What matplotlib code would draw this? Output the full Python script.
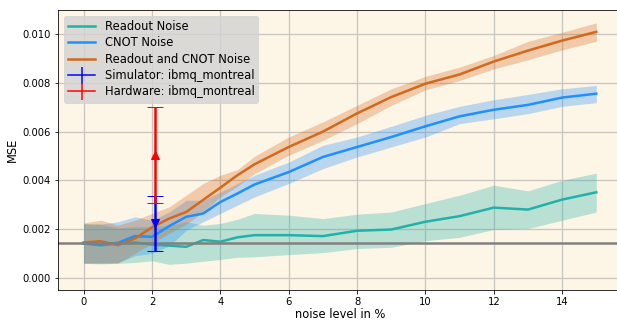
import numpy as np
import matplotlib
matplotlib.use('Agg')
import matplotlib.pyplot as plt
from matplotlib.lines import Line2D

# noise levels in %
noise = [0, 0.5, 1, 1.5, 2, 2.5, 3, 3.5, 4, 4.5, 5, 6, 7, 8, 9, 10, 11, 12, 13, 14, 15]

# readout noise only
ro_mean = [0.00141, 0.00133, 0.0014, 0.00145, 0.00136, 0.00132, 0.00127, 0.00155, 0.00148, 0.00166, 0.00175,
           0.00175, 0.00171, 0.00193, 0.00198, 0.0023, 0.00253, 0.00288, 0.0028, 0.00321, 0.00351]
ro_hi = [0.00223, 0.0022, 0.00205, 0.0021, 0.0021, 0.00215, 0.0023, 0.00216, 0.00223, 0.0024, 0.00264,
         0.00257, 0.00243, 0.00261, 0.0027, 0.00305, 0.00339, 0.0038, 0.00357, 0.004, 0.0043]
ro_lo = [0.00059, 0.00057, 0.00059, 0.00063, 0.0007, 0.00055, 0.0006, 0.00068, 0.00075, 0.00084, 0.00086,
         0.00095, 0.00103, 0.0012, 0.00125, 0.00152, 0.00166, 0.00198, 0.00202, 0.00236, 0.0027]

# CNOT noise only
cx_mean = [0.00141, 0.00137, 0.00143, 0.00171, 0.00168, 0.00212, 0.0025, 0.00264, 0.00311, 0.00346, 0.00383,
           0.00434, 0.00496, 0.00537, 0.00578, 0.00622, 0.00663, 0.0069, 0.0071, 0.0074, 0.00756]
cx_hi = [0.0022, 0.0022, 0.0023, 0.0025, 0.00236, 0.0027, 0.00318, 0.00318, 0.00352, 0.00387, 0.00421,
         0.00475, 0.00544, 0.00578, 0.00622, 0.00667, 0.00704, 0.00731, 0.00753, 0.00776, 0.0079]
cx_lo = [0.0006, 0.0006, 0.00062, 0.0009, 0.001, 0.0013, 0.00195, 0.0023, 0.00264, 0.00298, 0.00332,
         0.00387, 0.00448, 0.00496, 0.00537, 0.00578, 0.00633, 0.00653, 0.00674, 0.00704, 0.00719]

# readout + CNOT noise
both_mean = [0.00145, 0.0015, 0.00134, 0.00161, 0.00207, 0.00243, 0.0027, 0.0032, 0.0037, 0.00421, 0.00466,
             0.00537, 0.006, 0.00675, 0.00742, 0.00797, 0.00835, 0.00888, 0.00933, 0.00974, 0.0101]
both_hi = [0.00225, 0.00236, 0.00216, 0.00236, 0.00264, 0.00291, 0.00339, 0.00387, 0.00421, 0.00444, 0.00499,
           0.00578, 0.0064, 0.00708, 0.00776, 0.00827, 0.00865, 0.00913, 0.00971, 0.01008, 0.01047]
both_lo = [0.00061, 0.0006, 0.0006, 0.001, 0.00141, 0.00182, 0.0022, 0.0027, 0.00332, 0.00376, 0.00428,
           0.00503, 0.00564, 0.00633, 0.00708, 0.00772, 0.0081, 0.00858, 0.00895, 0.00936, 0.00971]

baseline = 0.00143

# ibmq_montreal results
dev_x = 2.1
sim_mse, sim_err = 0.00223, 0.00114
hw_mse, hw_err = 0.00504, 0.00197

fig = plt.figure(figsize=(617 / 72, 320 / 72), dpi=72)
ax = fig.add_axes([0.094, 0.094, 0.914, 0.875])
ax.set_facecolor('oldlace')

handles = []
series = [(ro_mean, ro_lo, ro_hi, 'lightseagreen', 'Readout Noise'),
          (cx_mean, cx_lo, cx_hi, 'dodgerblue', 'CNOT Noise'),
          (both_mean, both_lo, both_hi, 'chocolate', 'Readout and CNOT Noise')]
for mean, lo, hi, c, lab in series:
    ax.fill_between(noise, lo, hi, color=c, alpha=0.3, lw=0)
    line, = ax.plot(noise, mean, color=c, lw=2.5, label=lab)
    handles.append(line)

ax.axhline(baseline, color='gray', lw=2.5)

for y, err, c, mk, lab in [(sim_mse, sim_err, 'blue', 'v', 'Simulator: ibmq_montreal'),
                           (hw_mse, hw_err, 'red', '^', 'Hardware: ibmq_montreal')]:
    ax.errorbar([dev_x], [y], yerr=[err], color=c, elinewidth=2.5, lw=0,
                capsize=8, capthick=1)
    ax.plot([dev_x], [y], mk, color=c, ms=8)
    handles.append(Line2D([], [], color=c, lw=1.5, marker='|', ms=17, mew=1.5, label=lab))

ax.set_xlim(-0.75, 15.75)
ax.set_ylim(-0.0005, 0.011)
ax.set_xticks(np.arange(0, 15, 2))
ax.set_yticks(np.arange(0, 0.0101, 0.002))
ax.set_yticklabels(['%.3f' % v for v in np.arange(0, 0.0101, 0.002)])
ax.grid(True, color='#c9c6c0', lw=1.3)
ax.set_axisbelow(True)
ax.spines['right'].set_visible(False)
ax.set_xlabel('noise level in %', fontsize=11.5, labelpad=1)
ax.set_ylabel('MSE', fontsize=11.5)
ax.tick_params(labelsize=10)

ax.legend(handles=handles, loc='upper left', facecolor='lightgray', edgecolor='lightgray',
          fontsize=11.5, handlelength=2.4, labelspacing=0.3, borderpad=0.35)

fig.savefig('out.png', dpi=72)
